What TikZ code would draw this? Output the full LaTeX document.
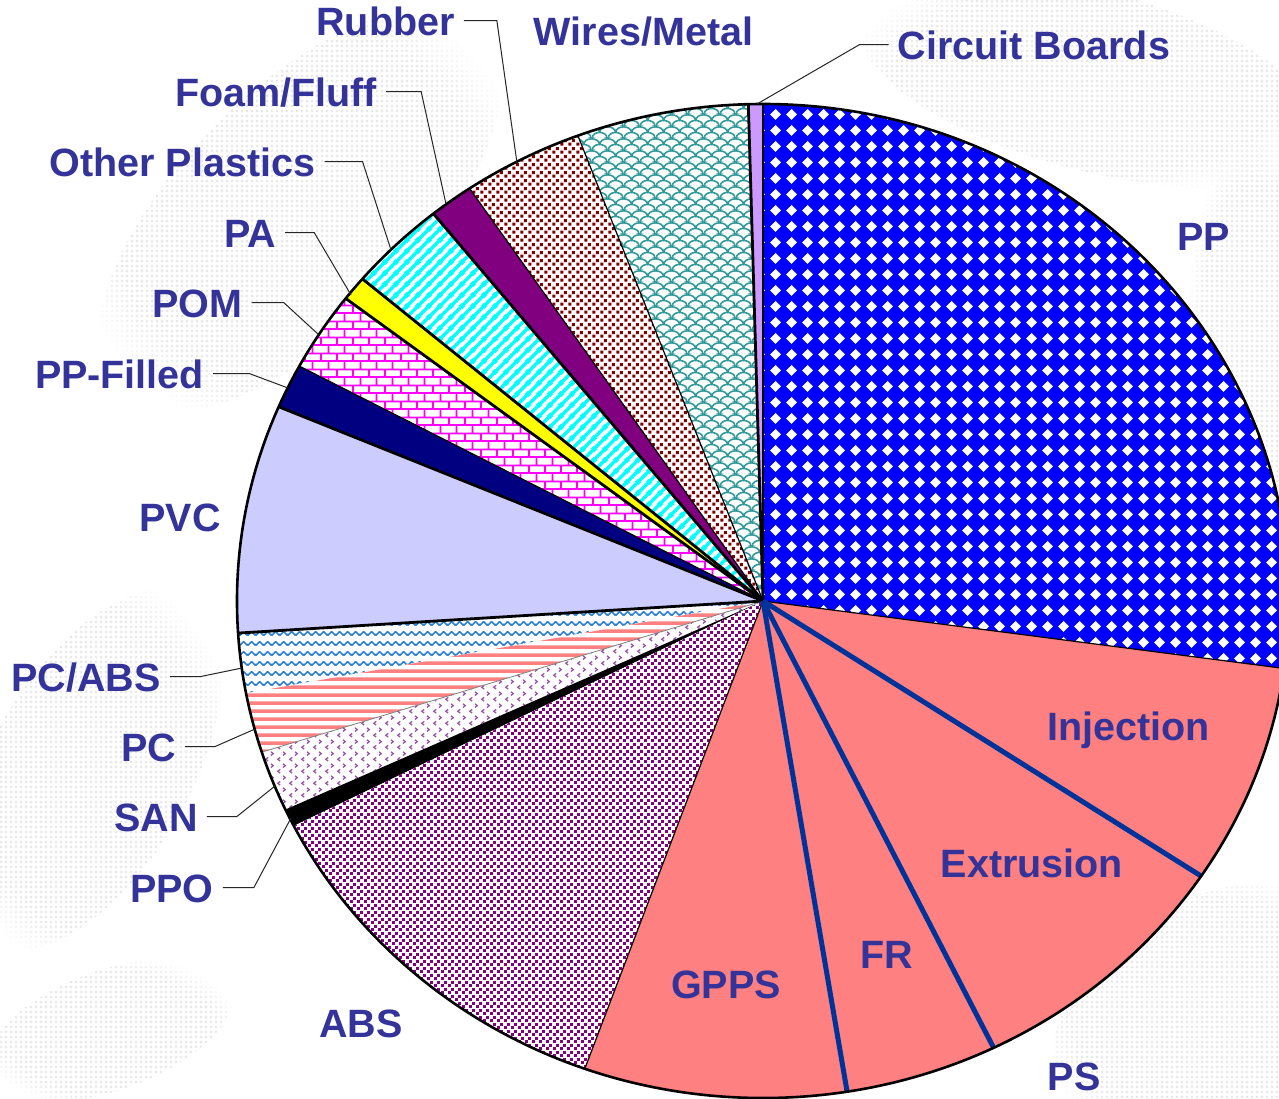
\documentclass[tikz,border=0pt]{standalone}
\usepackage{fontspec}
\setmainfont{Liberation Sans}
\usetikzlibrary{patterns,fadings}

\definecolor{labelblue}{HTML}{333399}
\definecolor{psline}{HTML}{003399}
\definecolor{ppblue}{HTML}{0000FF}
\definecolor{cbpurple}{HTML}{CC99FF}
\definecolor{wireteal}{HTML}{339999}
\definecolor{rubberred}{HTML}{800000}
\definecolor{foampurple}{HTML}{800080}
\definecolor{othercyan}{HTML}{00FFFF}
\definecolor{payellow}{HTML}{FFFF00}
\definecolor{pommagenta}{HTML}{FF00FF}
\definecolor{ppfnavy}{HTML}{000080}
\definecolor{pvclav}{HTML}{CCCCFF}
\definecolor{pcabsblue}{HTML}{2F80D0}
\definecolor{salmonpink}{HTML}{FF8080}
\definecolor{sanpurple}{HTML}{9955AA}
\definecolor{abspurple}{HTML}{800080}

% white diamonds on a square grid (PP)
\pgfdeclarepatternformonly{diamondgrid}{\pgfpointorigin}{\pgfpoint{16pt}{16pt}}{\pgfpoint{16pt}{16pt}}{%
  \pgfpathmoveto{\pgfpoint{8pt}{2.2pt}}%
  \pgfpathlineto{\pgfpoint{13.8pt}{8pt}}%
  \pgfpathlineto{\pgfpoint{8pt}{13.8pt}}%
  \pgfpathlineto{\pgfpoint{2.2pt}{8pt}}%
  \pgfpathclose\pgfusepath{fill}}

% interlocking scales (Wires/Metal)
\pgfdeclarepatternformonly{fishscale}{\pgfpointorigin}{\pgfpoint{16pt}{12pt}}{\pgfpoint{16pt}{12pt}}{%
  \pgfsetlinewidth{1.7pt}%
  \pgfpathmoveto{\pgfpoint{0pt}{0pt}}\pgfpathcurveto{\pgfpoint{1pt}{8pt}}{\pgfpoint{15pt}{8pt}}{\pgfpoint{16pt}{0pt}}%
  \pgfpathmoveto{\pgfpoint{0pt}{12pt}}\pgfpathcurveto{\pgfpoint{1pt}{20pt}}{\pgfpoint{15pt}{20pt}}{\pgfpoint{16pt}{12pt}}%
  \pgfpathmoveto{\pgfpoint{-8pt}{6pt}}\pgfpathcurveto{\pgfpoint{-7pt}{14pt}}{\pgfpoint{7pt}{14pt}}{\pgfpoint{8pt}{6pt}}%
  \pgfpathmoveto{\pgfpoint{8pt}{6pt}}\pgfpathcurveto{\pgfpoint{9pt}{14pt}}{\pgfpoint{23pt}{14pt}}{\pgfpoint{24pt}{6pt}}%
  \pgfpathmoveto{\pgfpoint{-8pt}{-6pt}}\pgfpathcurveto{\pgfpoint{-7pt}{2pt}}{\pgfpoint{7pt}{2pt}}{\pgfpoint{8pt}{-6pt}}%
  \pgfpathmoveto{\pgfpoint{8pt}{-6pt}}\pgfpathcurveto{\pgfpoint{9pt}{2pt}}{\pgfpoint{23pt}{2pt}}{\pgfpoint{24pt}{-6pt}}%
  \pgfusepath{stroke}}

% staggered square dots (Rubber)
\pgfdeclarepatternformonly{checkdots}{\pgfpointorigin}{\pgfpoint{8pt}{8pt}}{\pgfpoint{8pt}{8pt}}{%
  \pgfpathrectangle{\pgfpoint{0.3pt}{0.3pt}}{\pgfpoint{3.5pt}{3.5pt}}%
  \pgfpathrectangle{\pgfpoint{4.3pt}{4.3pt}}{\pgfpoint{3.5pt}{3.5pt}}%
  \pgfusepath{fill}}

% fine staggered dots (ABS)
\pgfdeclarepatternformonly{finedots}{\pgfpointorigin}{\pgfpoint{7pt}{7pt}}{\pgfpoint{7pt}{7pt}}{%
  \pgfpathrectangle{\pgfpoint{0.2pt}{0.2pt}}{\pgfpoint{3.1pt}{3.1pt}}%
  \pgfpathrectangle{\pgfpoint{3.7pt}{3.7pt}}{\pgfpoint{3.1pt}{3.1pt}}%
  \pgfusepath{fill}}

% wide upward diagonal stripes (Other Plastics)
\pgfdeclarepatternformonly{upstripes}{\pgfpointorigin}{\pgfpoint{11pt}{11pt}}{\pgfpoint{11pt}{11pt}}{%
  \pgfsetlinewidth{3.8pt}%
  \pgfpathmoveto{\pgfpoint{-2pt}{-2pt}}\pgfpathlineto{\pgfpoint{13pt}{13pt}}%
  \pgfpathmoveto{\pgfpoint{-7.5pt}{3.5pt}}\pgfpathlineto{\pgfpoint{3.5pt}{14.5pt}}%
  \pgfpathmoveto{\pgfpoint{7.5pt}{-3.5pt}}\pgfpathlineto{\pgfpoint{14.5pt}{3.5pt}}%
  \pgfusepath{stroke}}

% horizontal stripes (PC)
\pgfdeclarepatternformonly{hstripes}{\pgfpointorigin}{\pgfpoint{64pt}{7.5pt}}{\pgfpoint{64pt}{7.5pt}}{%
  \pgfpathrectangle{\pgfpoint{-1pt}{0pt}}{\pgfpoint{66pt}{3.8pt}}%
  \pgfusepath{fill}}

% horizontal bricks (POM)
\pgfdeclarepatternformonly{pombricks}{\pgfpointorigin}{\pgfpoint{16pt}{16pt}}{\pgfpoint{16pt}{16pt}}{%
  \pgfpathrectangle{\pgfpoint{-1pt}{0pt}}{\pgfpoint{18pt}{2pt}}%
  \pgfpathrectangle{\pgfpoint{-1pt}{8pt}}{\pgfpoint{18pt}{2pt}}%
  \pgfpathrectangle{\pgfpoint{0pt}{1pt}}{\pgfpoint{2pt}{8pt}}%
  \pgfpathrectangle{\pgfpoint{8pt}{9pt}}{\pgfpoint{2pt}{8pt}}%
  \pgfusepath{fill}}

% zigzag waves (PC/ABS)
\pgfdeclarepatternformonly{zigzag}{\pgfpointorigin}{\pgfpoint{8pt}{10pt}}{\pgfpoint{8pt}{10pt}}{%
  \pgfsetlinewidth{1.7pt}\pgfsetroundjoin%
  \pgfpathmoveto{\pgfpoint{-2pt}{5pt}}%
  \pgfpathlineto{\pgfpoint{0pt}{3pt}}%
  \pgfpathlineto{\pgfpoint{4pt}{7pt}}%
  \pgfpathlineto{\pgfpoint{8pt}{3pt}}%
  \pgfpathlineto{\pgfpoint{10pt}{5pt}}%
  \pgfusepath{stroke}}

% small chevrons (SAN)
\pgfdeclarepatternformonly{chevrons}{\pgfpointorigin}{\pgfpoint{12pt}{12pt}}{\pgfpoint{12pt}{12pt}}{%
  \pgfsetlinewidth{1.4pt}%
  \pgfpathmoveto{\pgfpoint{4.5pt}{1pt}}\pgfpathlineto{\pgfpoint{2pt}{3pt}}\pgfpathlineto{\pgfpoint{4.5pt}{5pt}}%
  \pgfpathmoveto{\pgfpoint{7.5pt}{7pt}}\pgfpathlineto{\pgfpoint{10pt}{9pt}}\pgfpathlineto{\pgfpoint{7.5pt}{11pt}}%
  \pgfusepath{stroke}}

% halftone dots of the backdrop
\pgfdeclarepatternformonly{halftone}{\pgfpointorigin}{\pgfpoint{5pt}{5pt}}{\pgfpoint{5pt}{5pt}}{%
  \pgfpathrectangle{\pgfpoint{1pt}{1pt}}{\pgfpoint{2.6pt}{2.6pt}}%
  \pgfusepath{fill}}

% one pie slice between two angles (degrees, counter-clockwise)
\newcommand\pieslice[3]{\path[#3] (0,0) -- (-#1:526 and 497)
  arc[start angle=-#1, end angle=-#2, x radius=526, y radius=497] -- cycle;}
% one radial edge
\newcommand\spoke[2]{\draw[#2] (0,0) -- (-#1:526 and 497);}

\begin{document}
\begin{tikzpicture}[x=1pt,y=-1pt,
  lbl/.style={font=\fontsize{39.5}{40}\selectfont\bfseries, text=labelblue,
    inner xsep=9pt, inner ysep=0pt, text height=29pt, text depth=0pt, anchor=base},
  leader/.style={draw=black!85, line width=1pt},
  thinedge/.style={draw=black, line width=1.2pt},
  thickedge/.style={draw=black, line width=2.8pt},
  psedge/.style={draw=psline, line width=5pt},
  haze/.style={pattern=halftone, pattern color=black!9,
    path fading=circle with fuzzy edge 20 percent}]

\useasboundingbox (0,0) rectangle (1279,1098);
\fill[white] (0,0) rectangle (1279,1098);

% faint halftone backdrop
\fill[haze, rotate around={45:(300,210)}] (300,210) ellipse [x radius=260, y radius=120];
\fill[haze, rotate around={60:(90,770)}] (90,770) ellipse [x radius=200, y radius=100];
\fill[haze, rotate around={-15:(1090,80)}] (1090,80) ellipse [x radius=240, y radius=90];
\fill[haze] (1255,360) ellipse [x radius=70, y radius=230];
\fill[haze, rotate around={30:(1210,1010)}] (1210,1010) ellipse [x radius=170, y radius=110];
\fill[haze, rotate around={20:(110,1030)}] (110,1030) ellipse [x radius=130, y radius=60];

% the pie
\begin{scope}[shift={(763,601)}]
  \pieslice{352.2}{450}{preaction={fill=ppblue}, pattern=diamondgrid, pattern color=white}
  \pieslice{90}{91.6}{fill=cbpurple}
  \pieslice{91.6}{110.6}{preaction={fill=white}, pattern=fishscale, pattern color=wireteal}
  \pieslice{110.6}{123.9}{preaction={fill=white}, pattern=checkdots, pattern color=rubberred}
  \pieslice{123.9}{128.8}{fill=foampurple}
  \pieslice{128.8}{139.6}{preaction={fill=white}, pattern=upstripes, pattern color=othercyan}
  \pieslice{139.6}{142.5}{fill=payellow}
  \pieslice{142.5}{151.8}{preaction={fill=white}, pattern=pombricks, pattern color=pommagenta}
  \pieslice{151.8}{157}{fill=ppfnavy}
  \pieslice{157}{183.7}{fill=pvclav}
  \pieslice{183.7}{190.7}{preaction={fill=white}, pattern=zigzag, pattern color=pcabsblue}
  \pieslice{190.7}{197.7}{preaction={fill=white}, pattern=hstripes, pattern color=salmonpink}
  \pieslice{197.7}{204.8}{preaction={fill=white}, pattern=chevrons, pattern color=sanpurple}
  \pieslice{204.8}{206.9}{fill=black}
  \pieslice{206.9}{250.2}{preaction={fill=white}, pattern=finedots, pattern color=abspurple}
  \pieslice{250.2}{352.2}{fill=salmonpink}

  % slice edges
  \spoke{352.2}{thinedge}
  \spoke{110.6}{thinedge}
  \spoke{123.9}{thinedge}
  \spoke{151.8}{thinedge}
  \spoke{197.7}{draw=black!50, line width=0.8pt}
  \spoke{250.2}{thinedge}
  \spoke{90}{thickedge}
  \spoke{91.6}{thickedge}
  \spoke{128.8}{thickedge}
  \spoke{139.6}{thickedge}
  \spoke{142.5}{thickedge}
  \spoke{157}{thickedge}
  \spoke{183.7}{thickedge}
  % inner divisions of PS
  \spoke{279.2}{psedge}
  \spoke{296}{psedge}
  \spoke{326.4}{psedge}
  % rim
  \draw[line width=2.6pt] (0,0) ellipse [x radius=526, y radius=497];
\end{scope}

% labels
\node[lbl] (lCB)    at (1034,59)   {Circuit Boards};
\node[lbl] (lWM)    at (643.5,45)  {Wires/Metal};
\node[lbl] (lRub)   at (385.5,35)  {Rubber};
\node[lbl] (lFoam)  at (276,106)   {Foam/Fluff};
\node[lbl] (lOther) at (182.5,176) {Other Plastics};
\node[lbl] (lPA)    at (250,247)   {PA};
\node[lbl] (lPOM)   at (197.5,317) {POM};
\node[lbl] (lPPF)   at (119.5,388) {PP-Filled};
\node[lbl] (lPVC)   at (180,531)   {PVC};
\node[lbl] (lPCABS) at (86,691)    {PC/ABS};
\node[lbl] (lPC)    at (148.5,761) {PC};
\node[lbl] (lSAN)   at (156,831)   {SAN};
\node[lbl] (lPPO)   at (172,902)   {PPO};
\node[lbl] (lABS)   at (361,1037)  {ABS};
\node[lbl] (lGPPS)  at (726,998)   {GPPS};
\node[lbl] (lFR)    at (887,968)   {FR};
\node[lbl] (lExt)   at (1032,877)  {Extrusion};
\node[lbl] (lInj)   at (1128.5,740){Injection};
\node[lbl] (lPP)    at (1203.5,250){PP};
\node[lbl] (lPS)    at (1074,1090) {PS};

% leader ends on the rim
\coordinate (eCB)    at (757,104);
\coordinate (eRub)   at (517,163);
\coordinate (eFoam)  at (446,204);
\coordinate (eOther) at (391,250);
\coordinate (ePA)    at (351,295);
\coordinate (ePOM)   at (319,335);
\coordinate (ePPF)   at (288,388);
\coordinate (ePCABS) at (242,668);
\coordinate (ePC)    at (255,729);
\coordinate (eSAN)   at (275,786);
\coordinate (ePPO)   at (291,818);

\draw[leader] (lCB.west)    -- ++(-29,0) -- (eCB);
\draw[leader] (lRub.east)   -- ++(33,0)  -- (eRub);
\draw[leader] (lFoam.east)  -- ++(35,0)  -- (eFoam);
\draw[leader] (lOther.east) -- ++(38,0)  -- (eOther);
\draw[leader] (lPA.east)    -- ++(29,0)  -- (ePA);
\draw[leader] (lPOM.east)   -- ++(32,0)  -- (ePOM);
\draw[leader] (lPPF.east)   -- ++(36,0)  -- (ePPF);
\draw[leader] (lPCABS.east) -- ++(31,0)  -- (ePCABS);
\draw[leader] (lPC.east)    -- ++(30,0)  -- (ePC);
\draw[leader] (lSAN.east)   -- ++(30,0)  -- (eSAN);
\draw[leader] (lPPO.east)   -- ++(31,0)  -- (ePPO);
\end{tikzpicture}
\end{document}
